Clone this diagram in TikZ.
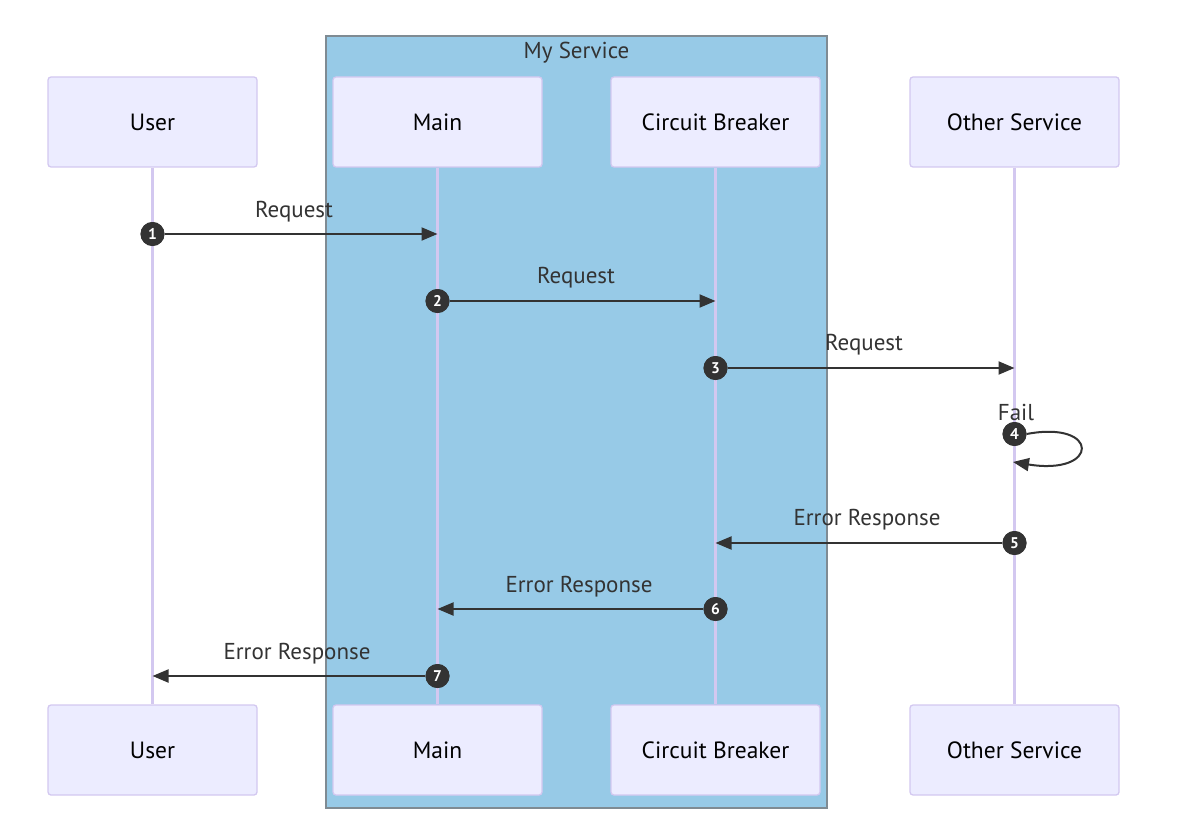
\documentclass[tikz,border=0pt]{standalone}
\usepackage{fontspec}
\setmainfont{PT Sans}
\usetikzlibrary{arrows.meta}
\definecolor{actfill}{HTML}{ECECFF}
\definecolor{actline}{HTML}{D3C8F0}
\definecolor{grpfill}{HTML}{97CAE7}
\definecolor{grpline}{HTML}{7F8B93}
\definecolor{ink}{HTML}{333333}
\tikzset{
  actor/.style={draw=actline, fill=actfill, line width=1.3pt, rounded corners=3pt,
    minimum width=209pt, minimum height=90pt, inner sep=0pt,
    font=\fontsize{23.5}{27}\selectfont, text=black},
  life/.style={draw=actline, line width=2.2pt},
  msg/.style={draw=ink, line width=2pt, -{Triangle[length=16pt,width=13pt]}},
  lbl/.style={font=\fontsize{23}{27}\selectfont, text=ink, inner sep=0pt},
  seqnum/.style={circle, fill=ink, minimum size=24pt, inner sep=0pt, text=white,
    font=\bfseries\fontsize{15.5}{17}\selectfont},
  grp/.style={draw=grpline, fill=grpfill, line width=1.5pt}
}
\begin{document}
\begin{tikzpicture}[x=1pt,y=-1pt]
\useasboundingbox (0,0) rectangle (1178,832);
\fill[white] (0,0) rectangle (1178,832);
% group
\node[grp, minimum width=501pt, minimum height=772pt, inner sep=0pt] (grp) at (576.5,422) {};
\node[lbl, anchor=center] (grplbl) at (576.5,53) {My Service};
% actors
\node[actor] (ut) at (152.5,122) {User};
\node[actor] (mt) at (437.5,122) {Main};
\node[actor] (ct) at (715.5,122) {Circuit Breaker};
\node[actor] (ot) at (1014.5,122) {Other Service};
\node[actor] (ub) at (152.5,750) {User};
\node[actor] (mb) at (437.5,750) {Main};
\node[actor] (cb) at (715.5,750) {Circuit Breaker};
\node[actor] (ob) at (1014.5,750) {Other Service};
% lifelines
\draw[life] (ut.south) -- (ub.north);
\draw[life] (mt.south) -- (mb.north);
\draw[life] (ct.south) -- (cb.north);
\draw[life] (ot.south) -- (ob.north);
% sequence numbers
\node[seqnum] (n1) at (152.5,234) {1};
\node[seqnum] (n2) at (437.5,301) {2};
\node[seqnum] (n3) at (715.5,368) {3};
\node[seqnum] (n4) at (1014.5,434) {4};
\node[seqnum] (n5) at (1014.5,543) {5};
\node[seqnum] (n6) at (715.5,609) {6};
\node[seqnum] (n7) at (437.5,676) {7};
% message end points
\coordinate (e1) at (437.5,234);
\coordinate (e2) at (715.5,301);
\coordinate (e3) at (1014.5,368);
\coordinate (e4) at (1013,462);
\coordinate (e5) at (715.5,543);
\coordinate (e6) at (437.5,609);
\coordinate (e7) at (152.5,676);
% messages
\draw[msg] (n1) -- (e1);
\draw[msg] (n2) -- (e2);
\draw[msg] (n3) -- (e3);
\draw[msg] (n4.east) .. controls (1100,420) and (1100,476) .. (e4);
\draw[msg] (n5) -- (e5);
\draw[msg] (n6) -- (e6);
\draw[msg] (n7) -- (e7);
\node[seqnum] at (n1) {1};
\node[seqnum] at (n2) {2};
\node[seqnum] at (n3) {3};
\node[seqnum] at (n4) {4};
\node[seqnum] at (n5) {5};
\node[seqnum] at (n6) {6};
\node[seqnum] at (n7) {7};
% labels
\node[lbl] (l1) at (294,212) {Request};
\node[lbl] (l2) at (576,278) {Request};
\node[lbl] (l3) at (864,345) {Request};
\node[lbl] (l4) at (1016,412) {Fail};
\node[lbl] (l5) at (867,520) {Error Response};
\node[lbl] (l6) at (579,587) {Error Response};
\node[lbl] (l7) at (297,654) {Error Response};
\end{tikzpicture}
\end{document}
